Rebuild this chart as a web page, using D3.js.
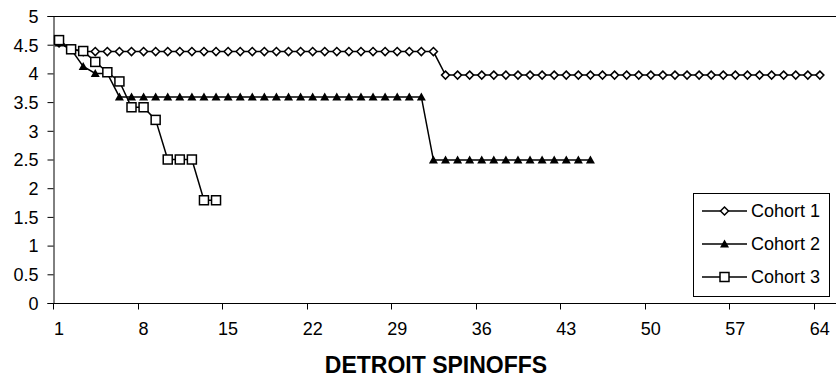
<!DOCTYPE html>
<html>
<head>
<meta charset="utf-8">
<script src="https://d3js.org/d3.v7.min.js"></script>
<style>
  body { margin: 0; background: #fff; }
  text { font-family: "Liberation Sans", Arial, sans-serif; fill: #000; }
</style>
</head>
<body>
<svg width="836" height="385"></svg>
<script>
// categories on the x axis (65 slots, Excel style, ticks between categories)
const categories = d3.range(1, 66);
const xTickLabels = [1, 8, 15, 22, 29, 36, 43, 50, 57, 64];
const yTicks = [0, 0.5, 1, 1.5, 2, 2.5, 3, 3.5, 4, 4.5, 5];

const cohort1 = [4.53, 4.42].concat(
    [4.38, 4.38, 4.38, 4.38, 4.38, 4.38, 4.38, 4.38, 4.38, 4.38,
     4.38, 4.38, 4.38, 4.38, 4.38, 4.38, 4.38, 4.38, 4.38, 4.38,
     4.38, 4.38, 4.38, 4.38, 4.38, 4.38, 4.38, 4.38, 4.38, 4.38],
    [3.97, 3.97, 3.97, 3.97, 3.97, 3.97, 3.97, 3.97, 3.97, 3.97,
     3.97, 3.97, 3.97, 3.97, 3.97, 3.97, 3.97, 3.97, 3.97, 3.97,
     3.97, 3.97, 3.97, 3.97, 3.97, 3.97, 3.97, 3.97, 3.97, 3.97,
     3.97, 3.97]);
const cohort2 = [4.53, 4.42, 4.12, 4.0, 4.0].concat(
    [3.59, 3.59, 3.59, 3.59, 3.59, 3.59, 3.59, 3.59, 3.59, 3.59,
     3.59, 3.59, 3.59, 3.59, 3.59, 3.59, 3.59, 3.59, 3.59, 3.59,
     3.59, 3.59, 3.59, 3.59, 3.59, 3.59],
    [2.49, 2.49, 2.49, 2.49, 2.49, 2.49, 2.49, 2.49, 2.49, 2.49,
     2.49, 2.49, 2.49, 2.49]);
const cohort3 = [4.58, 4.42, 4.39, 4.2, 4.02, 3.86, 3.41, 3.41, 3.19, 2.5, 2.5, 2.5, 1.79, 1.79];

const seriesNames = ["Cohort 1", "Cohort 2", "Cohort 3"];
const xTitle = "DETROIT SPINOFFS";

let svg = d3.select("svg"),
    plotLeft = 53,
    plotRight = 838,
    plotTop = 16,
    plotBottom = 303;

let x = d3.scaleBand().domain(categories).range([plotLeft, plotRight]);
let y = d3.scaleLinear().domain([0, 5]).range([plotBottom, plotTop]);

// plot frame (top edge)
svg.append("line")
    .attr("x1", plotLeft).attr("x2", plotRight)
    .attr("y1", y(5) + 0.5).attr("y2", y(5) + 0.5)
    .attr("stroke", "#000").attr("stroke-width", 1);

// y axis
let yAxis = svg.append("g")
    .attr("transform", `translate(${plotLeft + 0.5},0)`)
    .call(d3.axisLeft(y).tickValues(yTicks).tickSize(6).tickPadding(9).tickFormat(d3.format("")));
yAxis.select(".domain").attr("stroke", "#000");
yAxis.selectAll("text").style("font-size", "18px").attr("dy", "0.35em");

// x axis: ticks at category boundaries, labels at category centres
let xg = svg.append("g").attr("transform", `translate(0,${plotBottom + 0.5})`);
xg.append("line")
    .attr("x1", plotLeft).attr("x2", plotRight)
    .attr("stroke", "#000");
xg.selectAll(".tick")
    .data(xTickLabels)
    .enter()
    .append("line")
    .attr("x1", d => Math.round(x(d)) + 0.5)
    .attr("x2", d => Math.round(x(d)) + 0.5)
    .attr("y1", 0).attr("y2", 6)
    .attr("stroke", "#000");
xg.selectAll(".lbl")
    .data(xTickLabels)
    .enter()
    .append("text")
    .attr("x", d => x(d) + x.bandwidth() / 2)
    .attr("y", 31)
    .attr("text-anchor", "middle")
    .style("font-size", "18px")
    .text(d => d);

svg.append("text")
    .attr("x", 436)
    .attr("y", 373)
    .attr("text-anchor", "middle")
    .style("font-size", "23px")
    .style("font-weight", "bold")
    .text(xTitle);

let line = d3.line()
    .x((d, i) => x(i + 1) + x.bandwidth() / 2)
    .y(d => y(d));

function marker(g, kind, cx, cy) {
    if (kind === 0) {
        g.append("path")
            .attr("d", `M${cx},${cy - 4}L${cx + 4},${cy}L${cx},${cy + 4}L${cx - 4},${cy}Z`)
            .attr("fill", "#fff").attr("stroke", "#000").attr("stroke-width", 1.5);
    } else if (kind === 1) {
        g.append("path")
            .attr("d", `M${cx},${cy - 4.5}L${cx + 4.5},${cy + 3.5}L${cx - 4.5},${cy + 3.5}Z`)
            .attr("fill", "#000");
    } else {
        g.append("rect")
            .attr("x", cx - 4.5).attr("y", cy - 4.5)
            .attr("width", 9).attr("height", 9)
            .attr("fill", "#fff").attr("stroke", "#000").attr("stroke-width", 1.5);
    }
}

[cohort1, cohort2, cohort3].forEach(function(data, k) {
    let g = svg.append("g");
    g.append("path")
        .datum(data)
        .attr("d", line)
        .attr("fill", "none")
        .attr("stroke", "#000")
        .attr("stroke-width", 1.5);
    data.forEach(function(v, i) {
        marker(g, k, x(i + 1) + x.bandwidth() / 2, y(v));
    });
});

// legend
let lg = svg.append("g");
lg.append("rect")
    .attr("x", 693.5).attr("y", 193.5)
    .attr("width", 136).attr("height", 103)
    .attr("fill", "#fff").attr("stroke", "#000");
seriesNames.forEach(function(name, k) {
    let ly = 211 + k * 33;
    lg.append("line")
        .attr("x1", 702).attr("x2", 747)
        .attr("y1", ly).attr("y2", ly)
        .attr("stroke", "#000").attr("stroke-width", 1.5);
    marker(lg, k, 724.5, ly);
    lg.append("text")
        .attr("x", 751).attr("y", ly)
        .attr("dy", "0.35em")
        .style("font-size", "18px")
        .text(name);
});
</script>
</body>
</html>
